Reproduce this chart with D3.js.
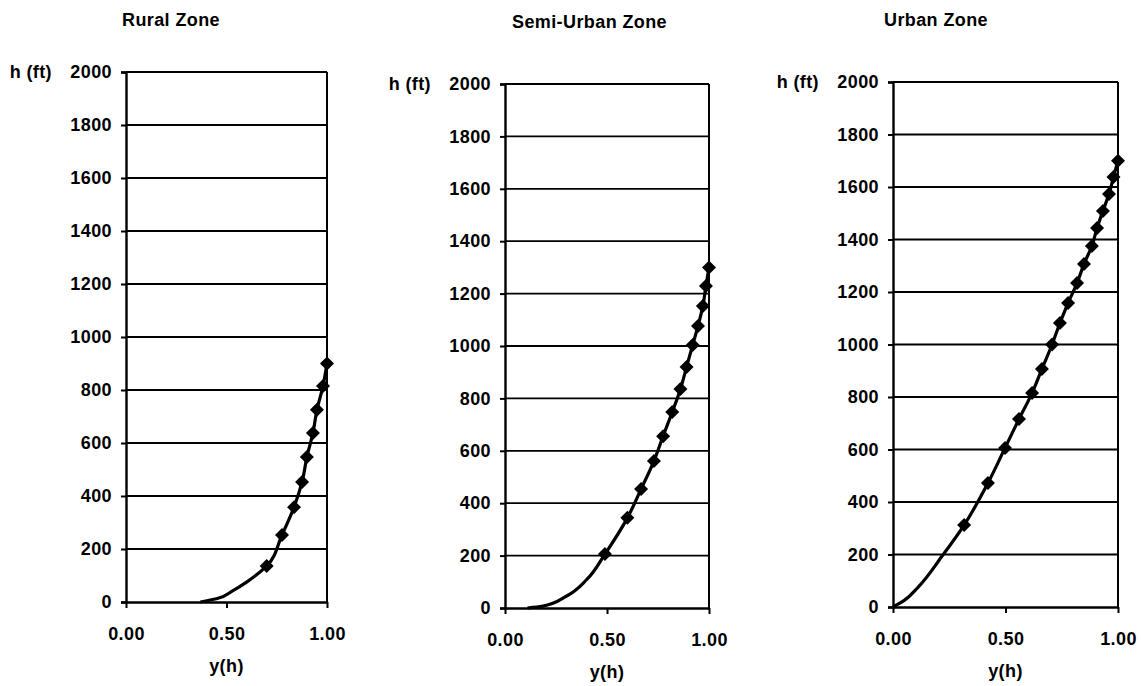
<!DOCTYPE html>
<html>
<head>
<meta charset="utf-8">
<script src="https://cdn.jsdelivr.net/npm/d3@7"></script>
<style>
  body { margin: 0; background: #fff; }
  svg { display: block; }
  text { font-family: "Liberation Sans", Arial, sans-serif; font-weight: bold; fill: #000; letter-spacing: 0.4px; }
</style>
</head>
<body>
<svg id="chart" width="1141" height="686"></svg>
<script>
// three wind-profile panels, h (ft) vs y(h)

const ZONES   = ['Rural Zone', 'Semi-Urban Zone', 'Urban Zone'];
const H_TICKS = [0, 200, 400, 600, 800, 1000, 1200, 1400, 1600, 1800, 2000];
const Y_TICKS = [0, 0.5, 1];

// marker points
const RURAL_Y = [1.00, 0.98, 0.95, 0.93, 0.90, 0.876, 0.836, 0.776, 0.70];
const RURAL_H = [900, 815, 725, 638, 547, 453, 358, 253, 136];
// lower part of the curve (no markers)
const RURAL_LOW_Y = [0.37, 0.45, 0.53, 0.60];
const RURAL_LOW_H = [0, 12, 42, 75];

const SEMI_Y = [1.00, 0.985, 0.97, 0.946, 0.92, 0.89, 0.86, 0.82, 0.775, 0.73, 0.667, 0.60, 0.49];
const SEMI_H = [1300, 1229, 1153, 1076, 1004, 920, 836, 748, 656, 561, 454, 344, 206];
const SEMI_LOW_Y = [0.11, 0.18, 0.30, 0.40];
const SEMI_LOW_H = [0, 6, 45, 108];

const URBAN_Y = [1.00, 0.98, 0.96, 0.933, 0.907, 0.884, 0.849, 0.818, 0.778, 0.742, 0.707, 0.662, 0.618, 0.56, 0.498, 0.422, 0.316];
const URBAN_H = [1700, 1638, 1573, 1509, 1444, 1375, 1307, 1234, 1158, 1082, 1000, 907, 815, 716, 606, 472, 312];
const URBAN_LOW_Y = [0, 0.05, 0.11, 0.22];
const URBAN_LOW_H = [0, 25, 74, 196];

// ── panel frames (pixels) ────────────────────────────────────────────────────
const FRAMES = [
    { left: 126, right: 327,  top: 72, bottom: 602, titleX: 122, titleY: 26 },
    { left: 505, right: 709,  top: 84, bottom: 608, titleX: 512, titleY: 28 },
    { left: 893, right: 1118, top: 82, bottom: 607, titleX: 884, titleY: 26 },
];

const SERIES = [
    { y: RURAL_Y, h: RURAL_H, lowY: RURAL_LOW_Y, lowH: RURAL_LOW_H },
    { y: SEMI_Y,  h: SEMI_H,  lowY: SEMI_LOW_Y,  lowH: SEMI_LOW_H  },
    { y: URBAN_Y, h: URBAN_H, lowY: URBAN_LOW_Y, lowH: URBAN_LOW_H },
];

const FS = 18;
const svg = d3.select('#chart');

ZONES.forEach((zone, i) => {
    const f = FRAMES[i];
    const s = SERIES[i];

    const x = d3.scaleLinear().domain([0, 1]).range([f.left, f.right]);
    const y = d3.scaleLinear().domain([0, 2000]).range([f.bottom, f.top]);

    const g = svg.append('g');

    // title
    g.append('text')
        .attr('x', f.titleX).attr('y', f.titleY)
        .attr('text-anchor', 'start')
        .attr('font-size', FS + 'px')
        .text(zone);

    // gridlines (top one doubles as the box edge)
    g.append('g').selectAll('line')
        .data(H_TICKS.filter(t => t > 0))
        .join('line')
        .attr('x1', f.left).attr('x2', f.right)
        .attr('y1', d => y(d)).attr('y2', d => y(d))
        .attr('stroke', '#000').attr('stroke-width', 1.8);

    // right edge of the box
    g.append('line')
        .attr('x1', f.right).attr('x2', f.right)
        .attr('y1', f.top).attr('y2', f.bottom)
        .attr('stroke', '#000').attr('stroke-width', 2);

    // y axis
    const yAxis = g.append('g')
        .attr('transform', `translate(${f.left},0)`)
        .call(d3.axisLeft(y).tickValues(H_TICKS).tickSize(5).tickPadding(9).tickFormat(d3.format('d')));
    yAxis.select('.domain').attr('stroke', '#000').attr('stroke-width', 2.4);
    yAxis.selectAll('.tick line').attr('stroke', '#000').attr('stroke-width', 2);
    yAxis.selectAll('.tick text')
        .attr('font-size', FS + 'px').attr('font-family', null).attr('fill', '#000');

    // x axis
    const xAxis = g.append('g')
        .attr('transform', `translate(0,${f.bottom})`)
        .call(d3.axisBottom(x).tickValues(Y_TICKS).tickSize(6).tickSizeOuter(0).tickPadding(19).tickFormat(d3.format('.2f')));
    xAxis.select('.domain').attr('stroke', '#000').attr('stroke-width', 2.4);
    xAxis.selectAll('.tick line').attr('stroke', '#000').attr('stroke-width', 2);
    xAxis.selectAll('.tick text')
        .attr('font-size', FS + 'px').attr('font-family', null).attr('fill', '#000');

    // axis titles
    g.append('text')
        .attr('x', f.left - 74).attr('y', y(2000))
        .attr('dy', '0.36em')
        .attr('text-anchor', 'end')
        .attr('font-size', FS + 'px')
        .text('h (ft)');

    g.append('text')
        .attr('x', x(0.5)).attr('y', f.bottom + 70)
        .attr('text-anchor', 'middle')
        .attr('font-size', FS + 'px')
        .text('y(h)');

    // curve: lower points + marker points, sorted by height
    const pts = s.lowY.map((v, k) => ({ y: v, h: s.lowH[k] }))
        .concat(s.y.map((v, k) => ({ y: v, h: s.h[k] })))
        .sort((a, b) => a.h - b.h);

    const line = d3.line()
        .x(d => x(d.y))
        .y(d => y(d.h))
        .curve(d3.curveMonotoneY);

    g.append('path')
        .datum(pts)
        .attr('d', line)
        .attr('fill', 'none')
        .attr('stroke', '#000')
        .attr('stroke-width', 3.2);

    // diamond markers
    const diamond = d3.symbol().type(d3.symbolSquare).size(98);
    g.append('g').selectAll('path')
        .data(s.y.map((v, k) => ({ y: v, h: s.h[k] })))
        .join('path')
        .attr('d', diamond)
        .attr('transform', d => `translate(${x(d.y)},${y(d.h)}) rotate(45)`)
        .attr('fill', '#000');
});
</script>
</body>
</html>
